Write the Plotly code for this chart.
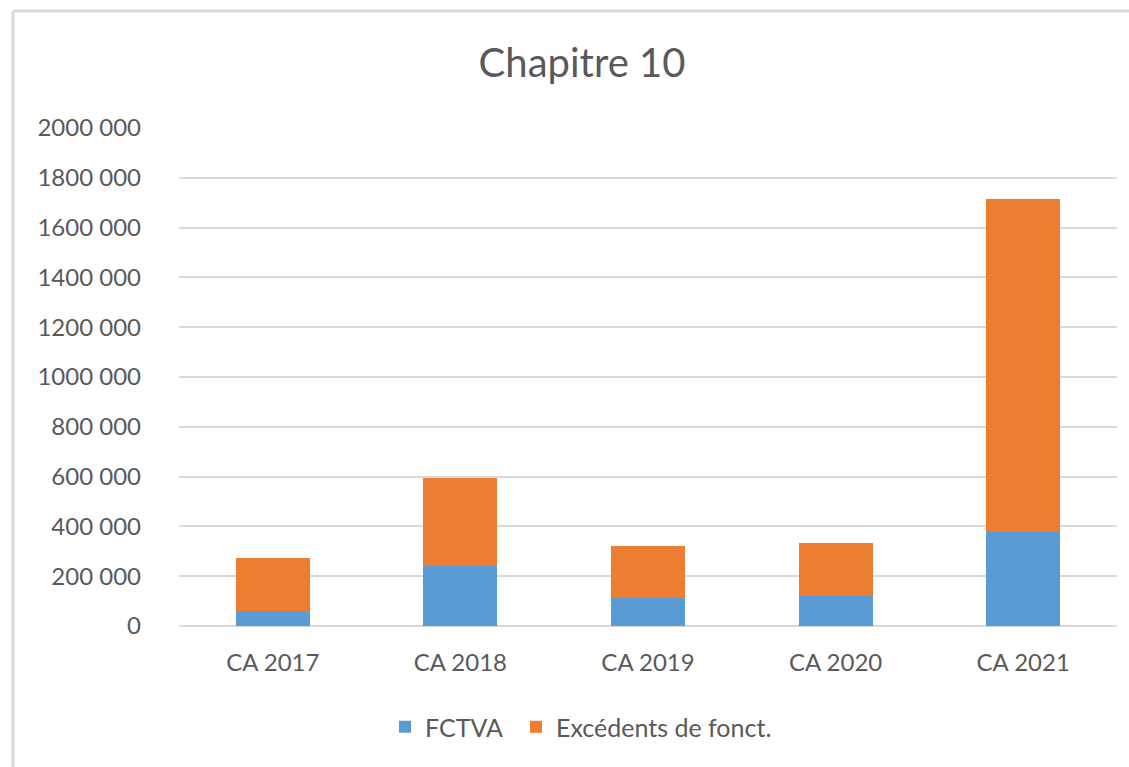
import plotly.graph_objects as go

# Budget chapter 10 receipts by year (euros)
categories = ["CA 2017", "CA 2018", "CA 2019", "CA 2020", "CA 2021"]
fctva = [59000, 241000, 114000, 119000, 376000]
excedents = [213000, 355000, 207000, 213000, 1340000]

tick_vals = [0, 200000, 400000, 600000, 800000, 1000000, 1200000,
             1400000, 1600000, 1800000, 2000000]
tick_text = ["0", "200 000", "400 000", "600 000", "800 000", "1000 000",
             "1200 000", "1400 000", "1600 000", "1800 000", "2000 000"]

FONT = "Lato"
TEXT = "#595959"
GRID = "#d9d9d9"

fig = go.Figure()
fig.add_trace(go.Bar(x=categories, y=fctva, name="FCTVA", legend="legend",
                     marker=dict(color="#5B9BD5", line=dict(width=0))))
fig.add_trace(go.Bar(x=categories, y=excedents, name="Excédents de fonct.",
                     legend="legend2",
                     marker=dict(color="#ED7D31", line=dict(width=0))))

L, R, T, B = 179, 12, 128, 141
W, H = 1129, 767
pw, ph = W - L - R, H - T - B

def px_x(x):
    return (x - L) / pw

def px_y(y):
    return (H - B - y) / ph

legend_style = dict(orientation="h", xanchor="left", y=px_y(727), yanchor="middle",
                    font=dict(family=FONT, size=25, color=TEXT), itemwidth=30,
                    bgcolor="rgba(0,0,0,0)")

fig.update_layout(
    barmode="stack",
    bargap=0.605,
    width=W, height=H,
    margin=dict(l=L, r=R, t=T, b=B),
    paper_bgcolor="white",
    plot_bgcolor="white",
    font=dict(family=FONT, color=TEXT, size=24),
    title=dict(text="Chapitre 10", x=582 / W, xref="container", xanchor="center",
               y=1 - 63 / H, yref="container", yanchor="middle",
               font=dict(family=FONT, size=40, color=TEXT)),
    xaxis=dict(showgrid=False, showline=False, zeroline=False,
               ticks="", ticklabelstandoff=20,
               tickfont=dict(family=FONT, size=24, color=TEXT)),
    yaxis=dict(range=[0, 2000000], tickvals=tick_vals, ticktext=tick_text,
               showgrid=True, gridcolor=GRID, gridwidth=1.5,
               zeroline=True, zerolinecolor=GRID, zerolinewidth=1.5,
               showline=False, ticks="", ticklabelstandoff=37,
               tickfont=dict(family=FONT, size=24, color=TEXT)),
    legend=dict(x=px_x(385), **legend_style),
    legend2=dict(x=px_x(516), **legend_style),
    showlegend=True,
    shapes=[
        dict(type="line", xref="paper", yref="paper",
             x0=px_x(13), x1=px_x(W + 5), y0=px_y(11), y1=px_y(11),
             line=dict(color=GRID, width=3)),
        dict(type="line", xref="paper", yref="paper",
             x0=px_x(13), x1=px_x(13), y0=px_y(11), y1=px_y(H + 5),
             line=dict(color=GRID, width=3)),
    ],
)

fig.write_html("out.html")
